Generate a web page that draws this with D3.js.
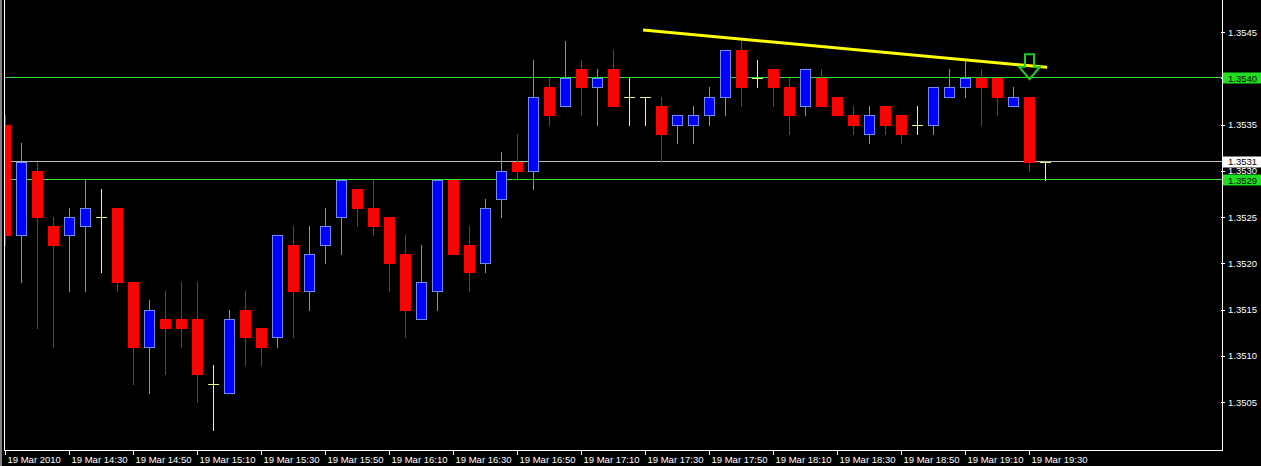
<!DOCTYPE html>
<html>
<head>
<meta charset="utf-8">
<script src="https://cdn.jsdelivr.net/npm/d3@7"></script>
<style>
  html, body { margin: 0; padding: 0; background: #000; }
  svg { display: block; }
  text { font-family: "Liberation Sans", Arial, sans-serif; }
</style>
</head>
<body>
<svg id="chart" width="1261" height="466"></svg>
<script>
// ---------- DATA (EURUSD M5, 19 Mar 2010) ----------
const times = ["14:10","14:15","14:20","14:25","14:30","14:35","14:40","14:45","14:50","14:55",
  "15:00","15:05","15:10","15:15","15:20","15:25","15:30","15:35","15:40","15:45",
  "15:50","15:55","16:00","16:05","16:10","16:15","16:20","16:25","16:30","16:35",
  "16:40","16:45","16:50","16:55","17:00","17:05","17:10","17:15","17:20","17:25",
  "17:30","17:35","17:40","17:45","17:50","17:55","18:00","18:05","18:10","18:15",
  "18:20","18:25","18:30","18:35","18:40","18:45","18:50","18:55","19:00","19:05",
  "19:10","19:15","19:20","19:25","19:30","19:35"];
const open = [1.3535,1.3523,1.3530,1.3524,1.3523,1.3524,1.3525,1.3526,1.3518,1.3511,
  1.3514,1.3514,1.3514,1.3507,1.3506,1.3515,1.3513,1.3512,1.3522,1.3517,
  1.3522,1.3525,1.3528,1.3526,1.3525,1.3521,1.3514,1.3517,1.3529,1.3522,
  1.3520,1.3527,1.3531,1.3530,1.3539,1.3537,1.3541,1.3539,1.3541,1.3538,
  1.3538,1.3537,1.3535,1.3535,1.3536,1.3538,1.3543,1.3540,1.3541,1.3539,
  1.3537,1.3540,1.3538,1.3536,1.3534,1.3537,1.3536,1.3535,1.3535,1.3538,
  1.3539,1.3540,1.3540,1.3537,1.3538,1.3531];
const high = [1.3536,1.3533,1.3531,1.3525,1.3526,1.3529,1.3528,1.3526,1.3518,1.3516,
  1.3517,1.3518,1.3518,1.3509,1.3515,1.3517,1.3513,1.3523,1.3524,1.3524,
  1.3526,1.3529,1.3528,1.3529,1.3525,1.3523,1.3522,1.3529,1.3529,1.3524,
  1.3527,1.3532,1.3534,1.3542,1.3540,1.3544,1.3542,1.3541,1.3543,1.3540,
  1.3538,1.3538,1.3536,1.3537,1.3539,1.3543,1.3544,1.3542,1.3541,1.3540,
  1.3541,1.3541,1.3538,1.3537,1.3537,1.3537,1.3536,1.3537,1.3539,1.3541,
  1.3542,1.3541,1.3540,1.3539,1.3538,1.3531];
const low = [1.3522,1.3518,1.3513,1.3511,1.3517,1.3517,1.3519,1.3517,1.3507,1.3506,
  1.3508,1.3511,1.3505,1.3502,1.3506,1.3509,1.3509,1.3511,1.3512,1.3515,
  1.3520,1.3521,1.3524,1.3523,1.3517,1.3512,1.3514,1.3515,1.3521,1.3517,
  1.3519,1.3525,1.3529,1.3528,1.3535,1.3537,1.3536,1.3535,1.3537,1.3535,
  1.3535,1.3531,1.3533,1.3533,1.3535,1.3536,1.3537,1.3539,1.3537,1.3534,
  1.3536,1.3537,1.3536,1.3534,1.3533,1.3534,1.3533,1.3534,1.3534,1.3538,
  1.3538,1.3535,1.3536,1.3537,1.3530,1.3529];
const close = [1.3523,1.3531,1.3525,1.3522,1.3525,1.3526,1.3525,1.3518,1.3511,1.3515,
  1.3513,1.3513,1.3508,1.3507,1.3514,1.3512,1.3511,1.3523,1.3517,1.3521,
  1.3524,1.3529,1.3526,1.3524,1.3520,1.3515,1.3518,1.3529,1.3521,1.3519,
  1.3526,1.3530,1.3530,1.3538,1.3536,1.3540,1.3539,1.3540,1.3537,1.3538,
  1.3538,1.3534,1.3536,1.3536,1.3538,1.3543,1.3539,1.3540,1.3539,1.3536,
  1.3541,1.3537,1.3536,1.3535,1.3536,1.3535,1.3534,1.3535,1.3539,1.3539,
  1.3540,1.3539,1.3538,1.3538,1.3531,1.3531];

const priceTicks = [1.3505,1.3510,1.3515,1.3520,1.3525,1.3530,1.3535,1.3540,1.3545];
const timeTickIdx = [0,4,8,12,16,20,24,28,32,36,40,44,48,52,56,60,64];
const timeTickLabels = ["19 Mar 2010","19 Mar 14:30","19 Mar 14:50","19 Mar 15:10","19 Mar 15:30",
  "19 Mar 15:50","19 Mar 16:10","19 Mar 16:30","19 Mar 16:50","19 Mar 17:10","19 Mar 17:30",
  "19 Mar 17:50","19 Mar 18:10","19 Mar 18:30","19 Mar 18:50","19 Mar 19:10","19 Mar 19:30"];

// horizontal levels
const levelPrices = [1.3540, 1.3529];
const bidPrice = 1.3531;
// trend line endpoints (bar index, price)
const trendIdx = [39.85, 65.1];
const trendPrice = [1.354522, 1.354118];
// arrow signal
const arrowIdx = 64;
const arrowPrice = 1.35399;

// ---------- LAYOUT ----------
const W = 1261, H = 466;
const plotL = 4, plotR = 1222, plotB = 450;
const svg = d3.select("#chart");
svg.append("rect").attr("width", W).attr("height", H).attr("fill", "#000");

const x = d3.scaleLinear().domain([0, 65]).range([5.5, 1045.5]);
const y = d3.scaleLinear().domain([1.3505, 1.3545]).range([402, 32]);

svg.append("defs").append("clipPath").attr("id", "plotclip")
  .append("rect").attr("x", plotL + 1).attr("y", 0).attr("width", plotR - plotL - 1).attr("height", plotB);

const plot = svg.append("g").attr("clip-path", "url(#plotclip)");

// level lines (behind candles)
levelPrices.forEach(p => {
  plot.append("rect")
    .attr("x", plotL).attr("width", plotR - plotL)
    .attr("y", Math.round(y(p)) - 1).attr("height", 1)
    .attr("fill", "#2fe02f");
});
plot.append("rect")
  .attr("x", plotL).attr("width", plotR - plotL)
  .attr("y", Math.round(y(bidPrice)) - 1).attr("height", 1)
  .attr("fill", "#b8b8b8");

// candles
const bars = d3.range(open.length).map(i => ({
  i, o: open[i], h: high[i], l: low[i], c: close[i],
  type: close[i] > open[i] ? "up" : (close[i] < open[i] ? "down" : "doji")
}));
const wickCol = { up: "#6f8cff", down: "#ff0000", doji: "#f2f28a" };
const halfW = 5.5;

const g = plot.selectAll("g.bar").data(bars).join("g").attr("class", "bar");
g.append("line")
  .attr("x1", d => x(d.i)).attr("x2", d => x(d.i))
  .attr("y1", d => Math.round(y(d.h))).attr("y2", d => Math.round(y(d.l)) + 1)
  .attr("stroke", d => wickCol[d.type]).attr("stroke-width", 1);

g.filter(d => d.type !== "doji").append("rect")
  .attr("x", d => x(d.i) - halfW + (d.type === "up" ? 0.5 : 0))
  .attr("y", d => Math.round(y(Math.max(d.o, d.c))) + (d.type === "up" ? 0.5 : 0))
  .attr("width", d => d.type === "up" ? 2 * halfW - 1 : 2 * halfW)
  .attr("height", d => Math.max(1, Math.round(y(Math.min(d.o, d.c))) - Math.round(y(Math.max(d.o, d.c))) + (d.type === "up" ? 0 : 1)))
  .attr("fill", d => d.type === "up" ? "#0000ff" : "#ff0000")
  .attr("stroke", d => d.type === "up" ? "#6f8cff" : "none")
  .attr("stroke-width", 1);

g.filter(d => d.type === "doji").append("line")
  .attr("x1", d => x(d.i) - halfW).attr("x2", d => x(d.i) + halfW)
  .attr("y1", d => Math.round(y(d.o)) + 0.5).attr("y2", d => Math.round(y(d.o)) + 0.5)
  .attr("stroke", wickCol.doji).attr("stroke-width", 1);

// trend line
plot.append("line")
  .attr("x1", x(trendIdx[0])).attr("y1", y(trendPrice[0]))
  .attr("x2", x(trendIdx[1])).attr("y2", y(trendPrice[1]))
  .attr("stroke", "#ffff00").attr("stroke-width", 3);

// arrow (hollow, pointing down)
const ax = x(arrowIdx), ay = y(arrowPrice);
const arrowPts = [[ax, ay], [ax - 10.5, ay - 12.5], [ax - 4.5, ay - 12.5], [ax - 4.5, ay - 25],
  [ax + 4.5, ay - 25], [ax + 4.5, ay - 12.5], [ax + 10.5, ay - 12.5]];
plot.append("polygon")
  .attr("points", arrowPts.map(p => p.join(",")).join(" "))
  .attr("fill", "none").attr("stroke", "#22cc22").attr("stroke-width", 2);

// ---------- FRAME ----------
svg.append("rect").attr("x", 0).attr("y", 0).attr("width", 2).attr("height", H).attr("fill", "#808080");
svg.append("line").attr("x1", plotL + 0.5).attr("x2", plotL + 0.5).attr("y1", 0).attr("y2", plotB + 1)
  .attr("stroke", "#fff");
svg.append("line").attr("x1", plotR + 0.5).attr("x2", plotR + 0.5).attr("y1", 0).attr("y2", plotB + 1)
  .attr("stroke", "#fff");
svg.append("line").attr("x1", plotL).attr("x2", plotR + 1).attr("y1", plotB + 0.5).attr("y2", plotB + 0.5)
  .attr("stroke", "#fff");

// price axis
const pa = svg.append("g");
pa.selectAll("line").data(priceTicks).join("line")
  .attr("x1", plotR - 1).attr("x2", plotR + 3)
  .attr("y1", d => Math.round(y(d)) + 0.5).attr("y2", d => Math.round(y(d)) + 0.5)
  .attr("stroke", "#fff");
pa.selectAll("text").data(priceTicks).join("text")
  .attr("x", 1228).attr("y", d => y(d) + 3.5)
  .attr("fill", "#fff").attr("font-size", "9.5px")
  .text(d => d.toFixed(4));

// highlighted price labels
const hl = [
  { p: levelPrices[0], bg: "#1ee01e", fg: "#000" },
  { p: bidPrice, bg: "#ffffff", fg: "#000" },
  { p: levelPrices[1], bg: "#1ee01e", fg: "#000" }
];
const hg = svg.append("g").selectAll("g").data(hl).join("g");
hg.append("rect")
  .attr("x", plotR + 1).attr("y", d => Math.round(y(d.p)) - 5.5)
  .attr("width", W - plotR - 1).attr("height", 11)
  .attr("fill", d => d.bg);
hg.append("text")
  .attr("x", 1228).attr("y", d => y(d.p) + 3.5)
  .attr("fill", d => d.fg).attr("font-size", "9.5px")
  .text(d => d.p.toFixed(4));

// time axis
const ta = svg.append("g");
ta.selectAll("line").data(timeTickIdx).join("line")
  .attr("x1", d => x(d)).attr("x2", d => x(d))
  .attr("y1", plotB).attr("y2", plotB + 5)
  .attr("stroke", "#fff");
ta.selectAll("text").data(timeTickIdx).join("text")
  .attr("x", d => x(d) + 2).attr("y", 463)
  .attr("fill", "#fff").attr("font-size", "9.5px")
  .text((d, k) => timeTickLabels[k]);
</script>
</body>
</html>
